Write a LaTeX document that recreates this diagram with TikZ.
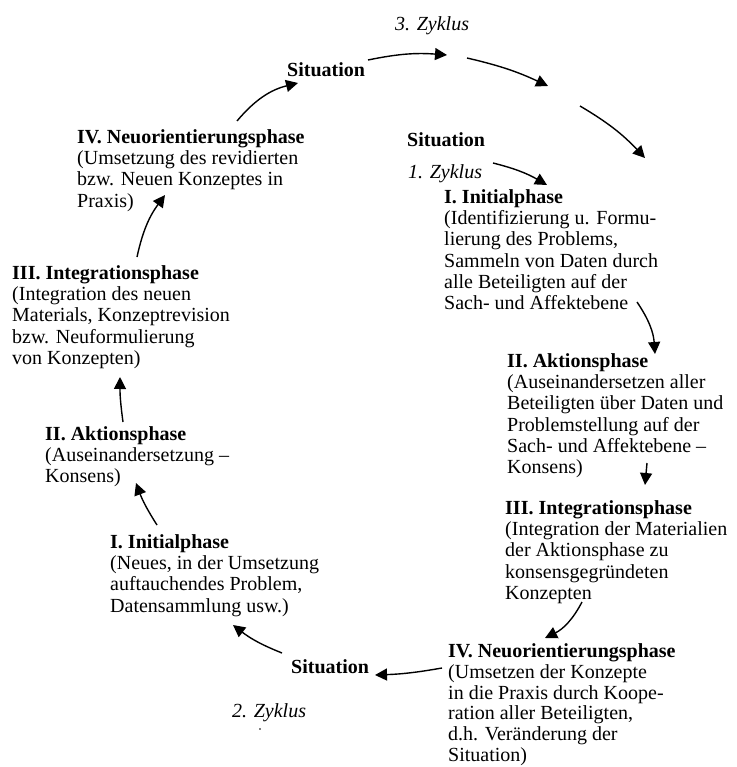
\documentclass[tikz,border=0pt]{standalone}
\usepackage{fontspec}
\setmainfont{Liberation Serif}
\usetikzlibrary{arrows.meta}
\tikzset{
  txt/.style={font=\fontsize{20}{21.3}\selectfont, align=left, inner sep=0pt, anchor=north west},
  cyc/.style={txt, font=\fontsize{20}{21.3}\selectfont\itshape},
  arr/.style={line width=1.4pt, -{Triangle[length=12pt,width=12pt]}},
}
\newcommand{\fl}{\rule{0pt}{15pt}}
\begin{document}
\begin{tikzpicture}[x=1pt,y=-1pt]
\useasboundingbox (0,0) rectangle (736,767);
\fill[white] (0,0) rectangle (736,767);

% texts
\node[cyc] (z3) at (395,15) {\fl 3. Zyklus};
\node[txt] (topsit) at (287,61) {\fl\textbf{Situation}};
\node[txt] (c1sit) at (407,131) {\fl\textbf{Situation}};
\node[cyc] (z1) at (408,163) {\fl 1. Zyklus};
\node[txt] (c1i) at (444,188) {\fl\textbf{I. Initialphase}\\(Identifizierung u. Formu-\\lierung des Problems,\\Sammeln von Daten durch\\alle Beteiligten auf der\\Sach- und Affektebene};
\node[txt] (c1ii) at (507,352) {\fl\textbf{II. Aktionsphase}\\(Auseinandersetzen aller\\Beteiligten über Daten und\\Problemstellung auf der\\Sach- und Affektebene –\\Konsens)};
\node[txt] (c1iii) at (505,499) {\fl\textbf{III. Integrationsphase}\\(Integration der Materialien\\der Aktionsphase zu\\konsensgegründeten\\Konzepten};
\node[txt, font=\fontsize{20}{20.9}\selectfont] (c1iv) at (448,642) {\fl\textbf{IV. Neuorientierungsphase}\\(Umsetzen der Konzepte\\in die Praxis durch Koope-\\ration aller Beteiligten,\\d.h. Veränderung der\\Situation)};
\node[txt] (botsit) at (291,658) {\fl\textbf{Situation}};
\node[cyc] (z2) at (232,702) {\fl 2. Zyklus};
\node[txt] (c2i) at (110,533) {\fl\textbf{I. Initialphase}\\(Neues, in der Umsetzung\\auftauchendes Problem,\\Datensammlung usw.)};
\node[txt] (c2ii) at (45,425) {\fl\textbf{II. Aktionsphase}\\(Auseinandersetzung –\\Konsens)};
\node[txt] (c2iii) at (12,264) {\fl\textbf{III. Integrationsphase}\\(Integration des neuen\\Materials, Konzeptrevision\\bzw. Neuformulierung\\von Konzepten)};
\node[txt] (c2iv) at (77,128) {\fl\textbf{IV. Neuorientierungsphase}\\(Umsetzung des revidierten\\bzw. Neuen Konzeptes in\\Praxis)};
\fill (260,729) circle (0.8);

% arrow end points
\coordinate (a1s) at (237,121);  \coordinate (a1e) at (298,83);
\coordinate (a2s) at (368,60);   \coordinate (a2e) at (447,55);
\coordinate (a3s) at (467,58);   \coordinate (a3e) at (548,86);
\coordinate (a4s) at (580,106);  \coordinate (a4e) at (645,158);
\coordinate (a5s) at (493,163);  \coordinate (a5e) at (547,185);
\coordinate (a6s) at (637,302);  \coordinate (a6e) at (655,354);
\coordinate (a7s) at (647,463);  \coordinate (a7e) at (645,485);
\coordinate (a8s) at (582,602);  \coordinate (a8e) at (545,638);
\coordinate (a9s) at (442,668);  \coordinate (a9e) at (375,675);
\coordinate (a10s) at (282,653); \coordinate (a10e) at (233,625);
\coordinate (a11s) at (157,525); \coordinate (a11e) at (136,483);
\coordinate (a12s) at (123,422); \coordinate (a12e) at (120,377);
\coordinate (a13s) at (137,257); \coordinate (a13e) at (165,195);

% connectors
\draw[arr] (a1s) to[bend left=18] (a1e);
\draw[arr] (a2s) to[bend left=8] (a2e);
\draw[arr] (a3s) to[bend left=6] (a3e);
\draw[arr] (a4s) to[bend left=8] (a4e);
\draw[arr] (a5s) to[bend left=8] (a5e);
\draw[arr] (a6s) to[bend left=15] (a6e);
\draw[arr] (a7s) -- (a7e);
\draw[arr] (a8s) to[bend left=18] (a8e);
\draw[arr] (a9s) to[bend left=4] (a9e);
\draw[arr] (a10s) to[bend left=8] (a10e);
\draw[arr] (a11s) to[bend left=6] (a11e);
\draw[arr] (a12s) to[bend left=4] (a12e);
\draw[arr] (a13s) to[bend left=12] (a13e);
\end{tikzpicture}
\end{document}
